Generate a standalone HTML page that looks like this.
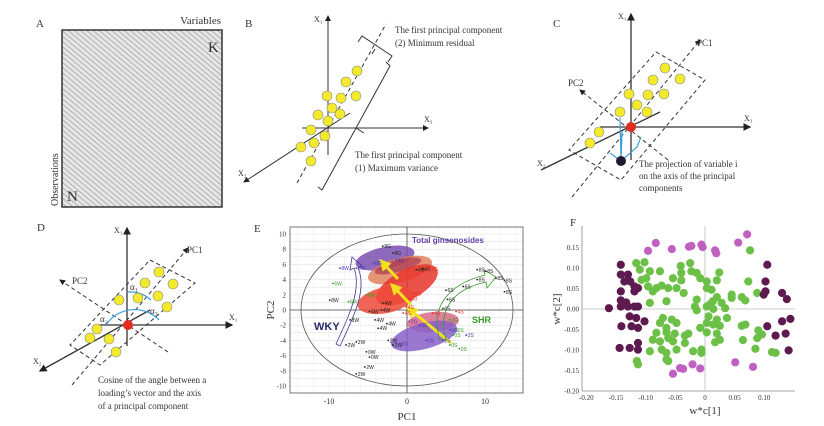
<!DOCTYPE html>
<html><head><meta charset="utf-8"><style>
html,body{margin:0;padding:0;background:#fff;}
svg{display:block;}
.serif{font-family:"Liberation Serif",serif;}
.sans{font-family:"Liberation Sans",sans-serif;}
</style></head><body>
<svg id="fig" width="824" height="426" viewBox="0 0 824 426" xmlns="http://www.w3.org/2000/svg">
<defs>
<pattern id="hatch" width="4" height="4" patternUnits="userSpaceOnUse" patternTransform="rotate(-50)">
<rect width="4" height="4" fill="#e6e6e6"/><line x1="0" y1="0" x2="0" y2="4" stroke="#a0a0a0" stroke-width="1.5"/>
</pattern>
<marker id="ah" markerWidth="6" markerHeight="6" refX="5" refY="3" orient="auto"><path d="M0,0 L6,3 L0,6 z" fill="#222"/></marker>
<marker id="ahy" markerWidth="4" markerHeight="4" refX="3" refY="2" orient="auto"><path d="M0,0 L4,2 L0,4 z" fill="#f0e020"/></marker>
</defs>

<!-- Panel A -->
<g class="serif">
<text x="36" y="27" font-size="11" fill="#333">A</text>
<text x="221" y="24" font-size="11" text-anchor="end" fill="#333">Variables</text>
<rect x="62" y="30" width="160" height="177" fill="url(#hatch)" stroke="#333" stroke-width="1.5"/>
<text x="208" y="52" font-size="15" fill="#333">K</text>
<text x="67" y="201" font-size="15" fill="#333">N</text>
<text transform="translate(58,206) rotate(-90)" font-size="10" fill="#333">Observations</text>
</g>

<!-- Panel B -->
<g class="serif" fill="#333">
<text x="245" y="27" font-size="11">B</text>
<line x1="328" y1="155" x2="328" y2="16" stroke="#333" marker-end="url(#ah)"/>
<line x1="302" y1="128" x2="428" y2="128" stroke="#333" marker-end="url(#ah)"/>
<line x1="350" y1="113" x2="244" y2="182" stroke="#333" marker-end="url(#ah)"/>
<line x1="297" y1="183" x2="386" y2="24" stroke="#333" stroke-dasharray="4,3"/>
<path d="M358,42 L362,36 L392,56 L388,62 M375,49 L372,54" fill="none" stroke="#333"/>
<path d="M386,62 L390,66 L322,190 L318,187 M356,128 L364,133" fill="none" stroke="#333"/>
<g fill="#f2ea2a" stroke="#888" stroke-width="0.6">
<circle cx="357" cy="71" r="5"/><circle cx="346" cy="82" r="5"/><circle cx="327" cy="96" r="5"/><circle cx="341" cy="98" r="5"/><circle cx="356" cy="96" r="5"/><circle cx="332" cy="108" r="5"/><circle cx="318" cy="115" r="5"/><circle cx="328" cy="121" r="5"/><circle cx="340" cy="114" r="5"/><circle cx="311" cy="130" r="5"/><circle cx="325" cy="136" r="5"/><circle cx="314" cy="143" r="5"/><circle cx="301" cy="147" r="5"/><circle cx="311" cy="161" r="5"/>
</g>
<text x="314" y="22" font-size="8">X₁</text>
<text x="424" y="122" font-size="8">X₃</text>
<text x="238" y="176" font-size="8">X₂</text>
<text x="395" y="33" font-size="9">The first principal component</text>
<text x="395" y="46" font-size="9">(2) Minimum residual</text>
<text x="355" y="158" font-size="9">The first principal component</text>
<text x="355" y="171" font-size="9">(1) Maximum variance</text>
</g>

<!-- Panel C -->
<g class="serif" fill="#333">
<text x="553" y="27" font-size="11">C</text>
<polygon points="656,52 705,80 621,180 569,150" fill="none" stroke="#333" stroke-dasharray="4,3"/>
<line x1="631" y1="160" x2="631" y2="14" stroke="#333" stroke-width="1.3" marker-end="url(#ah)"/>
<line x1="600" y1="127" x2="750" y2="127" stroke="#333" stroke-width="1.3" marker-end="url(#ah)"/>
<line x1="660" y1="112" x2="541" y2="170" stroke="#333" stroke-width="1.3"/>
<line x1="572" y1="197" x2="700" y2="40" stroke="#333" stroke-dasharray="4,3" marker-end="url(#ah)"/>
<line x1="668" y1="160" x2="580" y2="90" stroke="#333" stroke-dasharray="4,3" marker-end="url(#ah)"/>
<g fill="#f2ea2a" stroke="#888" stroke-width="0.6">
<circle cx="665" cy="68" r="5"/><circle cx="680" cy="79" r="5"/><circle cx="653" cy="80" r="5"/><circle cx="629" cy="94" r="5"/><circle cx="648" cy="95" r="5"/><circle cx="664" cy="94" r="5"/><circle cx="637" cy="105" r="5"/><circle cx="647" cy="112" r="5"/><circle cx="620" cy="112" r="5"/><circle cx="599" cy="132" r="5"/><circle cx="590" cy="143" r="5"/>
</g>
<path d="M621,161 L620,118 M621,161 L622,131 M621,161 L637,147 L641,137 M621,161 L610,153" stroke="#3aa0d8" stroke-width="1.2" fill="none"/>
<circle cx="631" cy="127" r="5" fill="#e32b1f"/>
<circle cx="621" cy="161" r="5" fill="#221a33"/>
<text x="618" y="19" font-size="8">X₁</text>
<text x="744" y="121" font-size="8">X₃</text>
<text x="537" y="166" font-size="8">X₂</text>
<text x="697" y="46" font-size="9">PC1</text>
<text x="568" y="86" font-size="9">PC2</text>
<text x="639" y="167" font-size="9">The projection of variable i</text>
<text x="639" y="179" font-size="9">on the axis of the principal</text>
<text x="639" y="191" font-size="9">components</text>
</g>

<!-- Panel D -->
<g class="serif" fill="#333">
<text x="37" y="231" font-size="11">D</text>
<polygon points="150,260 195,283 100,365 70,345" fill="none" stroke="#333" stroke-dasharray="4,3"/>
<line x1="127" y1="346" x2="127" y2="228" stroke="#333" stroke-width="1.3" marker-end="url(#ah)"/>
<line x1="95" y1="325" x2="232" y2="325" stroke="#333" stroke-width="1.3" marker-end="url(#ah)"/>
<line x1="150" y1="310" x2="40" y2="371" stroke="#333" stroke-width="1.3" marker-end="url(#ah)"/>
<line x1="72" y1="385" x2="188" y2="248" stroke="#333" stroke-dasharray="4,3" marker-end="url(#ah)"/>
<line x1="168" y1="352" x2="60" y2="280" stroke="#333" stroke-dasharray="4,3" marker-end="url(#ah)"/>
<path d="M127,292 A32,32 0 0 1 151,300" stroke="#3aa0d8" stroke-width="1.2" fill="none"/>
<path d="M106,325 A34,34 0 0 1 159,320" stroke="#3aa0d8" stroke-width="1.2" fill="none"/>
<g fill="#f2ea2a" stroke="#888" stroke-width="0.6">
<circle cx="159" cy="272" r="5"/><circle cx="173" cy="284" r="5"/><circle cx="145" cy="283" r="5"/><circle cx="138" cy="298" r="5"/><circle cx="158" cy="296" r="5"/><circle cx="167" cy="307" r="5"/><circle cx="119" cy="300" r="5"/><circle cx="97" cy="329" r="5"/><circle cx="90" cy="338" r="5"/><circle cx="109" cy="339" r="5"/><circle cx="116" cy="352" r="5"/>
</g>
<circle cx="128" cy="325" r="5" fill="#e32b1f"/>
<text x="114" y="233" font-size="8">X₁</text>
<text x="229" y="320" font-size="8">X₁</text>
<text x="33" y="364" font-size="8">X₂</text>
<text x="187" y="253" font-size="9">PC1</text>
<text x="72" y="284" font-size="9">PC2</text>
<text x="130" y="290" font-size="9">α₁</text>
<text x="150" y="314" font-size="9">α₃</text>
<text x="100" y="322" font-size="9">α₂</text>
<text x="98" y="383" font-size="9">Cosine of the angle between a</text>
<text x="98" y="396" font-size="9">loading’s vector and the axis</text>
<text x="98" y="409" font-size="9">of a principal component</text>
</g>

<g id="panelE"></g>
<g id="panelF"></g>
</svg>
<script>
// ---- Panel E data (PC scores) ----
const eXTicks = [-10, 0, 10];
const eYTicks = [10, 8, 6, 4, 2, 0, -2, -4, -6, -8, -10];
const eX = [9.0,10.1,11.4,12.5,12.5,9.0,5.0,5.2,4.6,7.2,-3.1,-1.8,2.0,1.2,-3.1,-3.3,-4.8,-4.1,-2.6,-3.7,-9.9,-7.3,-7.8,-6.5,-1.8,-5.4,-6.5,-2.4,-5.2,-4.8,
  -9.5,-7.5,-5.2,5.5,5.9,6.7,6.3,5.5, 2.9,0.8,0.3,3.3,6.3,-0.5,-0.1, 2.5,4.6,5.5,7.6,0.3,-6.5,-8.6,-4.3,-1.4,-0.9,1.6];
const eY = [5.3,5.1,4.2,3.9,2.4,4.0,2.6,1.4,0.2,3.1,8.4,7.5,5.4,5.3,0.9,0.0,-0.2,-1.3,-1.8,-2.4,1.3,-1.3,-4.6,-4.2,-4.6,-7.5,-8.4,-4.0,-5.5,-6.2,
  3.5,1.1,2.0,-4.6,-3.3,-5.1,-2.6,-1.3, 5.4,2.2,1.5,-0.4,-0.2,-0.4,0.4, -4.0,-4.0,-2.6,-3.3,-1.5,5.5,5.5,6.2,6.6,-4.4,-2.0];
const eLabels = ["8S","8S","8S","8S","8S","8S","6S","6S","6S","6S","8G","8G","4G","4G","4W","4W","4W","4W","4W","4W","8W","8W","2W","2W","2W","2W","2W","2W","0W","0W",
  "6W","6W","6W","0S","0S","0S","0S","2G", "4G","4G","4G","4S","4S","4S","4S", "2S","2S","0G","2S","2G","8W","8W","8G","8G","2G","0G"];
const eGroup = [0,0,0,0,0,0,0,0,0,0,0,0,0,0,0,0,0,0,0,0,0,0,0,0,0,0,0,0,0,0, 1,1,1,1,1,1,1,1, 2,2,2,2,2,2,2, 3,3,3,3,3,3,3,3,3,3,3];
const eGroupColors = ["#222","#3a9a2a","#e0302a","#4a3ab0"];

// ---- Panel F data (loadings) ----
const fXTicks = [-0.20,-0.15,-0.10,-0.05,0,0.05,0.10];
const fXTickLabels = ["-0.20","-0.15","-0.10","-0.05","0","0.05","0.10"];
const fYTicks = [0.15,0.10,0.05,0,-0.05,-0.10,-0.15,-0.20];
const fYTickLabels = ["0.15","0.10","0.05","0.00","-0.05","-0.10","-0.15","-0.20"];
const darkX = [-0.162,-0.142,-0.142,-0.130,-0.136,-0.126,-0.119,-0.113,-0.142,-0.119,-0.142,-0.133,-0.142,-0.130,-0.119,-0.113,-0.127,-0.116,-0.102,-0.141,-0.124,-0.113,-0.144,-0.127,-0.113,-0.113,0.105,0.102,0.102,0.099,0.130,0.138,0.144,0.130,0.105,0.119,0.136,0.141];
const darkY = [0.002,0.108,0.084,0.084,0.067,0.067,0.055,0.051,0.043,0.043,0.021,0.016,0.006,0.006,0.006,0.006,-0.018,-0.022,-0.030,-0.042,-0.042,-0.046,-0.095,-0.095,-0.083,-0.099,0.108,0.067,0.043,0.035,0.039,0.024,-0.024,-0.030,-0.042,-0.065,-0.060,-0.101];
const magX = [-0.096,-0.083,-0.056,-0.027,-0.023,-0.006,-0.004,0.017,0.019,0.056,0.071,-0.021,-0.037,-0.054,-0.008,0.051,0.081,-0.042];
const magY = [0.142,0.161,0.146,0.152,0.154,0.157,0.151,0.143,0.136,0.162,0.182,-0.135,-0.146,-0.158,-0.145,-0.130,-0.141,-0.144];
const greenX = [-0.116,-0.102,-0.041,-0.025,0.076,-0.110,-0.093,-0.076,-0.023,-0.014,0.024,-0.040,-0.107,-0.099,-0.082,-0.073,-0.054,-0.040,-0.008,0.003,0.020,
 -0.096,-0.088,-0.062,-0.048,-0.036,0.003,0.011,0.073,0.088,0.045,-0.093,-0.065,-0.014,0.013,0.028,0.045,0.062,0.068,0.020,
 -0.017,0.003,0.014,0.034,-0.014,0.008,-0.071,-0.056,-0.048,-0.076,-0.065,0.006,0.020,0.037,0.003,0.014,0.025,
 -0.082,-0.065,-0.051,-0.034,-0.028,0.003,0.020,0.062,0.068,0.090,0.096,0.088,-0.008,
 -0.088,-0.076,-0.062,-0.054,-0.034,0.017,0.025,0.064,0.085,-0.093,-0.073,-0.065,-0.048,-0.020,-0.006,-0.006,0.113,0.119,-0.115,-0.113,-0.065,-0.062];
const greenY = [0.112,0.114,0.105,0.112,0.143,0.096,0.092,0.092,0.092,0.088,0.089,0.088,0.071,0.075,0.051,0.057,0.075,0.070,0.075,0.067,0.070,
 0.055,0.043,0.051,0.051,0.039,0.051,0.047,0.067,0.039,0.035,0.015,0.019,0.023,0.019,0.015,0.027,0.029,0.021,0.029,
 0.006,0.006,0,0.002,-0.003,0.011,-0.022,-0.026,-0.034,-0.034,-0.046,-0.018,-0.026,-0.022,-0.034,-0.038,-0.041,
 -0.058,-0.057,-0.060,-0.065,-0.060,-0.057,-0.060,-0.041,-0.038,-0.052,-0.062,-0.071,-0.046,
 -0.075,-0.079,-0.071,-0.079,-0.083,-0.081,-0.075,-0.076,-0.097,-0.103,-0.099,-0.107,-0.099,-0.103,-0.099,-0.107,-0.105,-0.107,-0.127,-0.135,-0.123,-0.127];

const NS = "http://www.w3.org/2000/svg";
function mk(parent, tag, attrs, text) {
  const el = document.createElementNS(NS, tag);
  for (const k in attrs) el.setAttribute(k, attrs[k]);
  if (text !== undefined) el.textContent = text;
  parent.appendChild(el);
  return el;
}

// ===== Panel E =====
(function(){
  const g = document.getElementById('panelE');
  const L = 290, R = 523, T = 227, B = 393;
  const ex = v => 407 + v * 7.8;
  const ey = v => 310 - v * 7.6;
  let t = mk(g,'text',{x:254,y:232,'font-size':11,'font-family':'Liberation Serif, serif',fill:'#333'},'E');
  
  
  for (let v = -10; v <= 10; v += 1) {
    const l = mk(g,'line',{x1:L,x2:R,y1:ey(v),y2:ey(v),stroke:'#e2e2e2','stroke-width':0.6});
    
    
  }
  for (let v = -14; v <= 14; v += 2) {
    const l = mk(g,'line',{x1:ex(v),x2:ex(v),y1:T,y2:B,stroke:'#ececec','stroke-width':0.6});
    
    
  }
  const frame = mk(g,'rect',{x:L,y:T,width:R-L,height:B-T,fill:'none',stroke:'#555','stroke-width':0.8});
  
  
  const ax1 = mk(g,'line',{x1:L,x2:R,y1:ey(0),y2:ey(0),stroke:'#444','stroke-width':0.8});
  
  
  const ax2 = mk(g,'line',{x1:ex(0),x2:ex(0),y1:T,y2:B,stroke:'#444','stroke-width':0.8});
  
  
  const ell = mk(g,'ellipse',{cx:ex(0),cy:ey(0),rx:106,ry:76,fill:'none',stroke:'#555','stroke-width':0.8});
  
  
  const blobs = [
    [385,258,30,11,-12,'#7a4fb0',0.85,'purple-blob-top'],
    [400,270,33,12,-15,'#e07a55',0.8,'salmon-blob'],
    [398,266,24,6,-15,'#a02a50',0.6,'darkred-blob'],
    [407,285,34,15,-28,'#e8352a',0.85,'red-blob'],
    [386,300,29,13,-12,'#ee4a38',0.85,'red-blob-lower'],
    [433,322,26,10,-5,'#d86a8a',0.85,'pink-blob'],
    [424,336,34,13,-15,'#8a60c8',0.85,'purple-blob-bottom']
  ];
  blobs.forEach(b => {
    const e = mk(g,'ellipse',{cx:b[0],cy:b[1],rx:b[2],ry:b[3],transform:`rotate(${b[4]} ${b[0]} ${b[1]})`,fill:b[5],'fill-opacity':b[6]});
    
    
  });
  const arrows = [[398,279,381,261],[411,305,392,285],[451,343,408,308]];
  arrows.forEach(a => {
    const l = mk(g,'line',{x1:a[0],y1:a[1],x2:a[2],y2:a[3],stroke:'#f2e21e','stroke-width':3,'marker-end':'url(#ahy)'});
    
    
  });
  const blue = mk(g,'path',{d:'M340,346 C352,320 368,290 358,268 L362,266 L352,257 L350,270 L354,268 C362,290 348,318 336,344 Z',fill:'none',stroke:'#3a3a90','stroke-width':0.8});
  
  
  const green = mk(g,'path',{d:'M440,340 C430,310 445,285 485,275 L484,270 L496,277 L487,288 L486,282 C450,290 438,312 446,340 Z',fill:'none',stroke:'#3a9a2a','stroke-width':0.8});
  
  
  for (let i = 0; i < eX.length; i++) {
    const c = eGroupColors[eGroup[i]];
    const p = mk(g,'circle',{cx:ex(eX[i]),cy:ey(eY[i]),r:0.9,fill:c});
    
    
    const lt = mk(g,'text',{x:ex(eX[i])+1.5,y:ey(eY[i])+2,'font-size':5,'font-family':'Liberation Sans, sans-serif',fill:c},eLabels[i]);
    
    
  }
  const tg = mk(g,'text',{x:412,y:243,'font-size':8,'font-weight':'bold','font-family':'Liberation Sans, sans-serif',fill:'#6040a8'},'Total ginsenosides');
  
  
  const wky = mk(g,'text',{x:314,y:330,'font-size':11,'font-weight':'bold','font-family':'Liberation Sans, sans-serif',fill:'#2a2a6a'},'WKY');
  
  
  const shr = mk(g,'text',{x:472,y:323,'font-size':9,'font-weight':'bold','font-family':'Liberation Sans, sans-serif',fill:'#3a9a2a'},'SHR');
  
  
  eYTicks.forEach(v => {
    const tt = mk(g,'text',{x:L-4,y:ey(v)+2.5,'font-size':7,'text-anchor':'end','font-family':'Liberation Serif, serif',fill:'#333'},String(v));
    
    
  });
  eXTicks.forEach(v => {
    const tt = mk(g,'text',{x:ex(v),y:B+11,'font-size':8,'text-anchor':'middle','font-family':'Liberation Serif, serif',fill:'#333'},String(v));
    
    
  });
  const xt = mk(g,'text',{x:ex(0),y:420,'font-size':11,'text-anchor':'middle','font-family':'Liberation Serif, serif',fill:'#333'},'PC1');
  
  
  const yt = mk(g,'text',{transform:`translate(274,${ey(0)}) rotate(-90)`,'font-size':11,'text-anchor':'middle','font-family':'Liberation Serif, serif',fill:'#333'},'PC2');
  
  
})();

// ===== Panel F =====
(function(){
  const g = document.getElementById('panelF');
  const fx = v => 705 + v * 593;
  const fy = v => 309 - v * 410;
  const L = 582, R = 795, T = 226, B = fy(-0.20);
  let t = mk(g,'text',{x:570,y:226,'font-size':11,'font-family':'Liberation Serif, serif',fill:'#333'},'F');
  
  
  const ya = mk(g,'line',{x1:L,x2:L,y1:T,y2:B,stroke:'#888','stroke-width':0.8});
  
  
  const xa = mk(g,'line',{x1:L,x2:R,y1:B,y2:B,stroke:'#888','stroke-width':0.8});
  
  
  const h0 = mk(g,'line',{x1:L,x2:R,y1:fy(0),y2:fy(0),stroke:'#bbb','stroke-width':0.8});
  
  
  const v0 = mk(g,'line',{x1:fx(0),x2:fx(0),y1:T,y2:B,stroke:'#bbb','stroke-width':0.8});
  
  
  fYTicks.forEach((v,i) => {
    const tt = mk(g,'text',{x:L-3,y:fy(v)+2.5,'font-size':7,'text-anchor':'end','font-family':'Liberation Serif, serif',fill:'#333'},fYTickLabels[i]);
    
    
  });
  fXTicks.forEach((v,i) => {
    const tt = mk(g,'text',{x:fx(v),y:B+9,'font-size':7,'text-anchor':'middle','font-family':'Liberation Serif, serif',fill:'#333'},fXTickLabels[i]);
    
    
  });
  function series(xs, ys, col, name) {
    for (let i = 0; i < xs.length; i++) {
      const c = mk(g,'circle',{cx:fx(xs[i]),cy:fy(ys[i]),r:4.1,fill:col});
      
      
    }
  }
  series(greenX, greenY, '#6cc048', 'loading-point-green');
  series(magX, magY, '#c060c0', 'loading-point-magenta');
  series(darkX, darkY, '#5c1a4e', 'loading-point-dark');
  const xt = mk(g,'text',{x:fx(0),y:414,'font-size':11,'text-anchor':'middle','font-family':'Liberation Serif, serif',fill:'#333'},'w*c[1]');
  
  
  const yt = mk(g,'text',{transform:`translate(560,${fy(0)}) rotate(-90)`,'font-size':11,'text-anchor':'middle','font-family':'Liberation Serif, serif',fill:'#333'},'w*c[2]');
  
  
})();
</script>
</body></html>
